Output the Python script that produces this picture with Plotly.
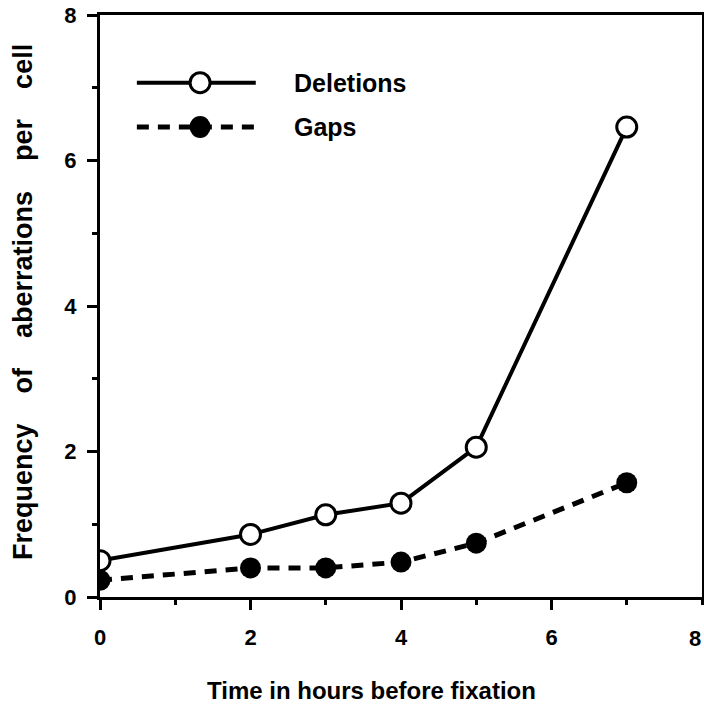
import plotly.graph_objects as go

hours = [0, 2, 3, 4, 5, 7]
deletions = [0.50, 0.86, 1.13, 1.29, 2.06, 6.46]
gaps = [0.23, 0.40, 0.40, 0.48, 0.74, 1.57]
tick_vals = [0, 2, 4, 6, 8]
tick_text = ["0", "2", "4", "6", "8"]
series_names = ["Deletions", "Gaps"]

FONT = "Liberation Sans, Arial, Helvetica, sans-serif"
NB = "\u00a0"

fig = go.Figure()
fig.add_trace(go.Scatter(
    x=hours, y=deletions, mode="lines+markers", name=series_names[0],
    line=dict(color="black", width=4),
    marker=dict(symbol="circle", size=20, color="white", line=dict(color="black", width=3)),
    cliponaxis=True, showlegend=False))
fig.add_trace(go.Scatter(
    x=hours, y=gaps, mode="lines+markers", name=series_names[1],
    line=dict(color="black", width=5, dash="12px,9px"),
    marker=dict(symbol="circle", size=21, color="black"),
    cliponaxis=True, showlegend=False))

# manual legend (long sample lines as in the original)
leg_y = [7.07, 6.46]
leg_x0, leg_x1, leg_xm, leg_tx = 0.49, 2.07, 1.33, 2.55
shapes = [
    dict(type="line", xref="x", yref="y", x0=leg_x0, x1=leg_x1, y0=leg_y[0], y1=leg_y[0],
         line=dict(color="black", width=4)),
    dict(type="line", xref="x", yref="y", x0=leg_x0, x1=leg_x1, y0=leg_y[1], y1=leg_y[1],
         line=dict(color="black", width=5, dash="12px,9px")),
    dict(type="circle", xref="x", yref="y", xsizemode="pixel", ysizemode="pixel",
         xanchor=leg_xm, yanchor=leg_y[0], x0=-10, x1=10, y0=-10, y1=10,
         fillcolor="white", line=dict(color="black", width=3)),
    dict(type="circle", xref="x", yref="y", xsizemode="pixel", ysizemode="pixel",
         xanchor=leg_xm, yanchor=leg_y[1], x0=-10.5, x1=10.5, y0=-11, y1=11,
         fillcolor="black", line=dict(color="black", width=0)),
]
annotations = [
    dict(x=leg_tx, y=leg_y[i], xref="x", yref="y", text=series_names[i], showarrow=False,
         xanchor="left", yanchor="middle", font=dict(family=FONT, size=25, color="black", weight="bold"))
    for i in range(2)
]
# pixel-positioned texts (converted to paper coords below)
pix_texts = [
    dict(x=371, y=690, text="Time in hours before fixation", size=24, angle=0),
    dict(x=23, y=302, text=(NB * 4).join(["Frequency", "of", "aberrations", "per", "cell"]), size=27, angle=-90),
    dict(x=695, y=638, text=tick_text[-1], size=22, angle=0),
]

L, R, T, B = 100, 2, 15, 108
W, H = 704, 705
pw, ph = W - L - R, H - T - B
for p in pix_texts:
    annotations.append(dict(
        x=(p["x"] - L) / pw, y=1 - (p["y"] - T) / ph, xref="paper", yref="paper",
        text=p["text"], showarrow=False, textangle=p["angle"], xanchor="center", yanchor="middle",
        font=dict(family=FONT, size=p["size"], color="black", weight="bold")))

axis_common = dict(
    showgrid=False, zeroline=False, showline=True, linecolor="black", linewidth=3, mirror=True,
    ticks="outside", ticklen=10, tickwidth=2.5, tickcolor="black",
    tickfont=dict(family=FONT, size=22, color="black", weight="bold"),
    minor=dict(dtick=1, tick0=0, ticks="outside", ticklen=5, tickwidth=2.5, tickcolor="black"),
    automargin=False,
)
fig.update_layout(
    width=W, height=H,
    margin=dict(l=L, r=R, t=T, b=B, pad=0),
    paper_bgcolor="white", plot_bgcolor="white",
    xaxis=dict(range=[0, 8], ticklabelstandoff=9, tickvals=tick_vals[:-1], ticktext=tick_text[:-1], **axis_common),
    yaxis=dict(range=[0, 8], tickvals=tick_vals, ticktext=[t + NB for t in tick_text], **axis_common),
    shapes=shapes, annotations=annotations, showlegend=False,
)
fig.write_html("out.html")
